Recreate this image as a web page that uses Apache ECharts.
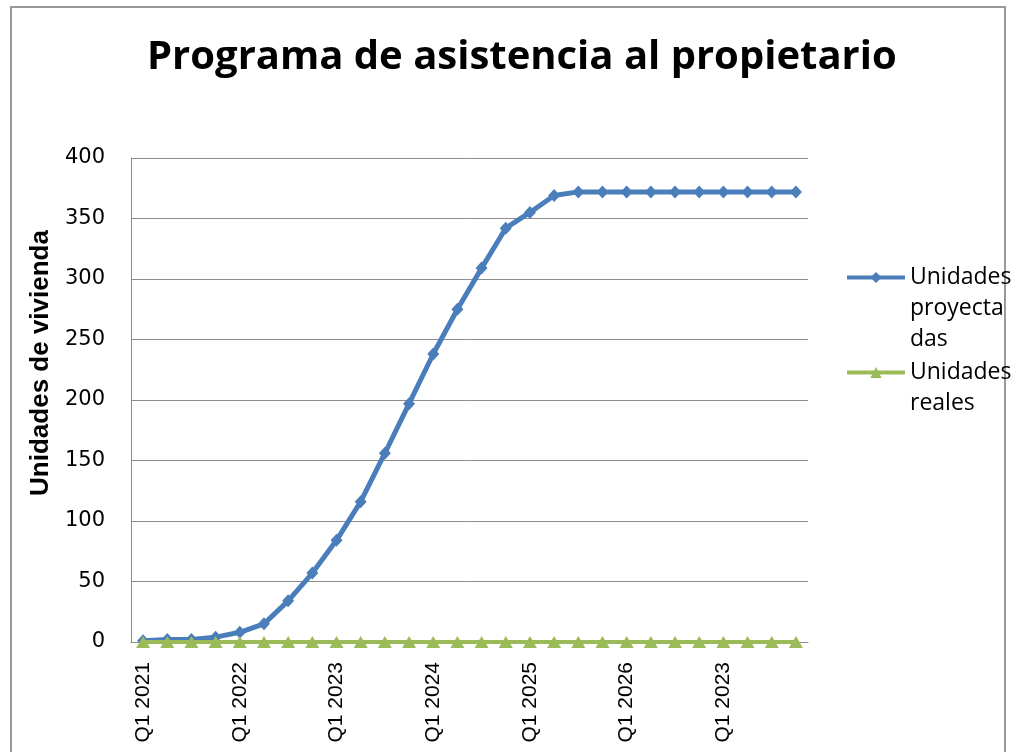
<!DOCTYPE html>
<html>
<head>
<meta charset="utf-8">
<script src="https://cdn.jsdelivr.net/npm/echarts@6/dist/echarts.min.js"></script>
<style>
  html, body { margin: 0; padding: 0; background: #fff; }
  #chart { width: 1018px; height: 752px; }
</style>
</head>
<body>
<div id="chart"></div>
<script>
// Quarterly categories (the last block is labelled 2023 in the source workbook)
const quarters = [
  'Q1 2021', 'Q2 2021', 'Q3 2021', 'Q4 2021',
  'Q1 2022', 'Q2 2022', 'Q3 2022', 'Q4 2022',
  'Q1 2023', 'Q2 2023', 'Q3 2023', 'Q4 2023',
  'Q1 2024', 'Q2 2024', 'Q3 2024', 'Q4 2024',
  'Q1 2025', 'Q2 2025', 'Q3 2025', 'Q4 2025',
  'Q1 2026', 'Q2 2026', 'Q3 2026', 'Q4 2026',
  'Q1 2023', 'Q2 2023', 'Q3 2023', 'Q4 2023'
];

// Projected housing units (cumulative)
const projectedUnits = [
  1, 2, 2, 4, 8, 15, 34, 57, 84, 116, 156, 197, 238, 275,
  309, 342, 355, 369, 372, 372, 372, 372, 372, 372, 372, 372, 372, 372
];

// Actual housing units delivered
const actualUnits = [
  0, 0, 0, 0, 0, 0, 0, 0, 0, 0, 0, 0, 0, 0,
  0, 0, 0, 0, 0, 0, 0, 0, 0, 0, 0, 0, 0, 0
];

const seriesNames = ['Unidades proyectadas', 'Unidades reales'];

// Wrapped legend labels; leading blank lines keep the first line level with the key
const legendText = {
  'Unidades proyectadas': '\n\nUnidades\nproyecta\ndas',
  'Unidades reales': '\nUnidades\nreales'
};

const chart = echarts.init(document.getElementById('chart'), null, { renderer: 'canvas' });

const legendBase = {
  orient: 'vertical',
  left: 845,
  padding: 0,
  itemWidth: 58,
  itemHeight: 14,
  formatter: name => legendText[name],
  selectedMode: false,
  lineStyle: { width: 4 },
  textStyle: {
    fontFamily: 'Open Sans', fontSize: 23, color: '#000', lineHeight: 31
  }
};

chart.setOption({
  animation: false,
  backgroundColor: '#ffffff',
  title: {
    text: 'Programa de asistencia al propietario',
    left: 147,
    top: 38,
    padding: 0,
    textStyle: {
      fontFamily: 'Open Sans',
      fontWeight: 'bold',
      fontSize: 40,
      color: '#000'
    }
  },
  legend: [
    Object.assign({}, legendBase, { top: 200, data: [seriesNames[0]] }),
    Object.assign({}, legendBase, { top: 326, data: [seriesNames[1]] })
  ],
  grid: {
    left: 131,
    right: 210,
    top: 158,
    bottom: 110,
    containLabel: false
  },
  xAxis: {
    type: 'category',
    data: quarters,
    boundaryGap: true,
    axisLine: { lineStyle: { color: '#8c8c8c', width: 1 } },
    axisTick: { show: false },
    axisLabel: {
      interval: 3,
      rotate: 90,
      margin: 20,
      fontFamily: 'Liberation Sans',
      fontSize: 21,
      color: '#000'
    },
    splitLine: { show: false }
  },
  yAxis: {
    type: 'value',
    min: 0,
    max: 400,
    interval: 50,
    axisLine: { show: true, lineStyle: { color: '#8c8c8c', width: 1 } },
    axisTick: { show: false },
    axisLabel: {
      margin: 26,
      fontFamily: 'DejaVu Sans',
      fontSize: 21,
      color: '#000'
    },
    splitLine: { lineStyle: { color: '#8c8c8c', width: 1 } }
  },
  graphic: [
    {
      type: 'rect',
      silent: true,
      shape: { x: 11, y: 7, width: 994, height: 800 },
      style: { fill: 'none', stroke: '#9a9a9a', lineWidth: 2 }
    },
    {
      type: 'text',
      silent: true,
      x: 41,
      y: 363,
      rotation: Math.PI / 2,
      style: {
        text: 'Unidades de vivienda',
        fontFamily: 'Liberation Sans',
        fontWeight: 'bold',
        fontSize: 26,
        fill: '#000',
        align: 'center',
        verticalAlign: 'middle'
      }
    }
  ],
  series: [
    {
      name: seriesNames[0],
      type: 'line',
      data: projectedUnits,
      symbol: 'diamond',
      symbolSize: [12, 13],
      lineStyle: { color: '#4a7ebb', width: 5 },
      itemStyle: { color: '#4a7ebb' },
      z: 2
    },
    {
      name: seriesNames[1],
      type: 'line',
      data: actualUnits,
      symbol: 'triangle',
      symbolSize: [14, 12],
      lineStyle: { color: '#9bbb59', width: 4 },
      itemStyle: { color: '#9bbb59' },
      z: 3
    }
  ]
});
</script>
</body>
</html>
